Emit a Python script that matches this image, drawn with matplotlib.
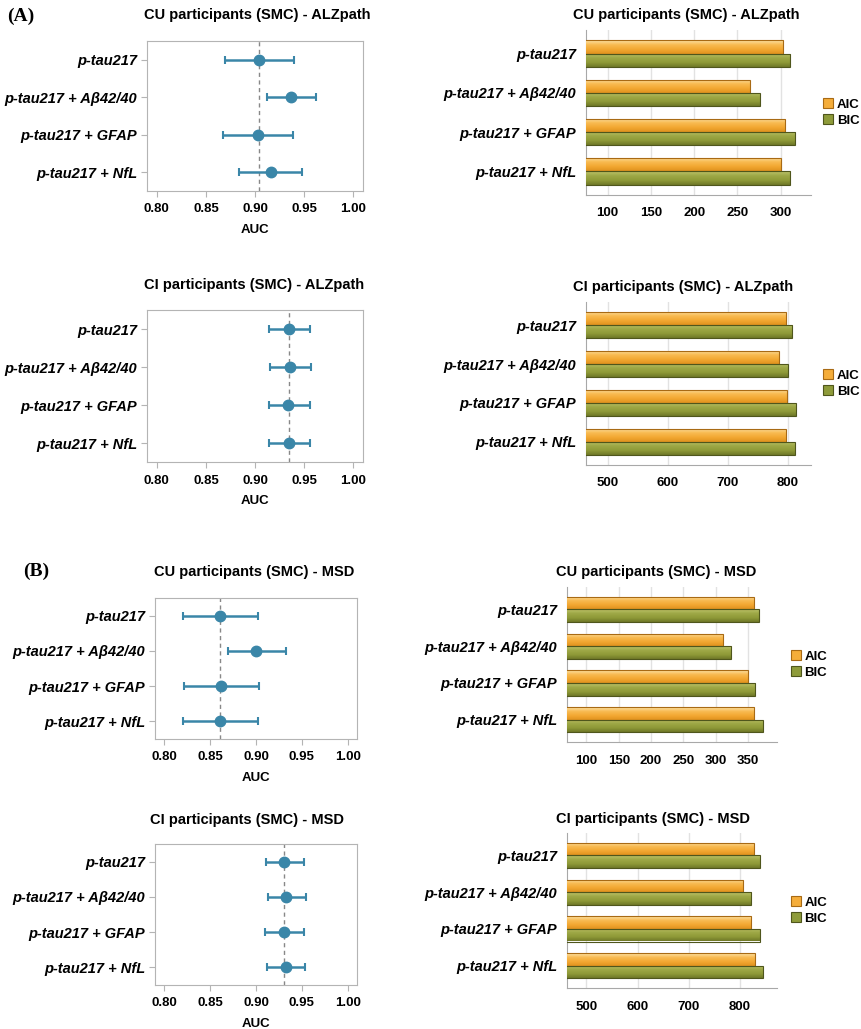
# -*- coding: utf-8 -*-

import numpy as np
import matplotlib
matplotlib.use("Agg")
import matplotlib.pyplot as plt
from matplotlib.colors import LinearSegmentedColormap

plt.rcParams["font.family"] = ["Liberation Sans", "DejaVu Sans"]

# データ
models = ["p-tau217", "p-tau217 + Aβ42/40", "p-tau217 + GFAP", "p-tau217 + NfL"]

# AUC (点, 下限, 上限)
auc_cu_alz = [0.904, 0.937, 0.903, 0.916]
lo_cu_alz = [0.869, 0.912, 0.867, 0.884]
hi_cu_alz = [0.940, 0.962, 0.939, 0.948]

auc_ci_alz = [0.935, 0.936, 0.934, 0.935]
lo_ci_alz = [0.914, 0.915, 0.914, 0.914]
hi_ci_alz = [0.956, 0.957, 0.956, 0.956]

auc_cu_msd = [0.861, 0.900, 0.862, 0.861]
lo_cu_msd = [0.820, 0.869, 0.822, 0.820]
hi_cu_msd = [0.902, 0.933, 0.903, 0.902]

auc_ci_msd = [0.931, 0.933, 0.931, 0.933]
lo_ci_msd = [0.911, 0.913, 0.910, 0.912]
hi_ci_msd = [0.952, 0.954, 0.952, 0.953]

auc_ticks = [0.80, 0.85, 0.90, 0.95, 1.00]

# AIC / BIC
aic_cu_alz = [303, 264, 305, 300]
bic_cu_alz = [311, 276, 317, 311]
aic_ci_alz = [797, 785, 799, 797]
bic_ci_alz = [808, 800, 814, 812]
aic_cu_msd = [359, 312, 350, 360]
bic_cu_msd = [367, 324, 361, 373]
aic_ci_msd = [827, 806, 822, 829]
bic_ci_msd = [838, 822, 838, 844]

ticks_cu_alz = [100, 150, 200, 250, 300]
ticks_ci_alz = [500, 600, 700, 800]
ticks_cu_msd = [100, 150, 200, 250, 300, 350]
ticks_ci_msd = [500, 600, 700, 800]

W, H = 861, 1029
BLUE = "#3a86a8"
ORANGE = "#f5ad3a"
ORANGE_EDGE = "#a86a14"
GREEN = "#8e9b3a"
GREEN_EDGE = "#4f561c"
ORANGE_CMAP = LinearSegmentedColormap.from_list(
    "org", ["#fde2a6", "#f8bb52", "#f3a832", "#e0921f"])
GREEN_CMAP = LinearSegmentedColormap.from_list(
    "grn", ["#bcc46c", "#9ea846", "#8f9a38", "#6f7828"])


def px_axes(fig, left, right, top, bottom):
    """ピクセル座標でAxesを作る"""
    return fig.add_axes([left / W, 1 - bottom / H, (right - left) / W, (bottom - top) / H])


def px_text(fig, x, y, s, **kw):
    fig.text(x / W, 1 - y / H, s, ha="center", va="center", **kw)


def forest(ax, auc, lo, hi):
    auc = np.array(auc)
    y = np.arange(len(models))
    err = [auc - np.array(lo), np.array(hi) - auc]
    ax.axvline(auc[0], color="#888888", ls=(0, (3, 2.5)), lw=1.0, zorder=1)
    ax.errorbar(auc, y, xerr=err, fmt="o", color=BLUE, ms=7.5, lw=1.8,
                capsize=3, capthick=1.5, zorder=3)
    ax.set_xlim(0.79, 1.01)
    ax.set_ylim(3.5, -0.5)
    ax.set_yticks(y)
    ax.set_yticklabels(models, fontsize=10.5, fontweight="bold", style="italic")
    ax.set_xticks(auc_ticks)
    ax.set_xticklabels(["%.2f" % t for t in auc_ticks], fontsize=9.5, fontweight="bold")
    ax.set_xlabel("AUC", fontsize=9.5, fontweight="bold", labelpad=6)
    for s in ax.spines.values():
        s.set_color("#b4b4b4")
    ax.tick_params(axis="both", color="#b4b4b4", length=4)
    ax.tick_params(axis="x", pad=5)
    ax.tick_params(axis="y", pad=3)


def shade(ax, container, cmap, xmin):
    """バーにグラデーションを付ける"""
    grad = np.linspace(0, 1, 64).reshape(-1, 1)
    for bar in container:
        x0, y0 = bar.get_xy()
        w, h = bar.get_width(), bar.get_height()
        im = ax.imshow(grad, extent=[max(x0, xmin), x0 + w, y0 + h, y0], origin="upper",
                       aspect="auto", cmap=cmap, zorder=3.2, interpolation="bilinear")
        im.set_clip_path(bar)
        bar.set_facecolor("none")
        bar.set_zorder(3.4)


def bars(ax, aic, bic, ticks, xlim, leg_x):
    y = np.arange(len(models))
    h = 0.34
    b1 = ax.barh(y - h / 2, aic, height=h, color=ORANGE, edgecolor=ORANGE_EDGE,
                 lw=0.8, label="AIC", zorder=3)
    b2 = ax.barh(y + h / 2, bic, height=h, color=GREEN, edgecolor=GREEN_EDGE,
                 lw=0.8, label="BIC", zorder=3)
    ax.legend(loc="center left", bbox_to_anchor=(leg_x, 0.5), frameon=False,
              prop={"size": 9.5, "weight": "bold"}, handlelength=0.75,
              handleheight=0.75, handletextpad=0.3, labelspacing=0.25,
              borderaxespad=0)
    shade(ax, b1, ORANGE_CMAP, xlim[0])
    shade(ax, b2, GREEN_CMAP, xlim[0])
    ax.set_xlim(*xlim)
    ax.set_ylim(3.6, -0.6)
    ax.set_yticks(y)
    ax.set_yticklabels(models, fontsize=10.5, fontweight="bold", style="italic")
    ax.set_xticks(ticks)
    ax.set_xticklabels([str(t) for t in ticks], fontsize=9.5, fontweight="bold")
    ax.grid(axis="x", color="#e2e2e2", lw=1.0, zorder=0)
    ax.set_axisbelow(True)
    ax.spines["top"].set_visible(False)
    ax.spines["right"].set_visible(False)
    ax.spines["left"].set_color("#a8a8a8")
    ax.spines["bottom"].set_color("#a8a8a8")
    ax.tick_params(axis="both", length=0)
    ax.tick_params(axis="x", pad=9)
    ax.tick_params(axis="y", pad=7)


def main():
    fig = plt.figure(figsize=(W / 100, H / 100), dpi=100)

    # 左側: AUC
    ax = px_axes(fig, 147, 363, 41, 191)
    forest(ax, auc_cu_alz, lo_cu_alz, hi_cu_alz)
    ax = px_axes(fig, 147, 363, 310, 462)
    forest(ax, auc_ci_alz, lo_ci_alz, hi_ci_alz)
    ax = px_axes(fig, 155, 357, 598, 739)
    forest(ax, auc_cu_msd, lo_cu_msd, hi_cu_msd)
    ax = px_axes(fig, 155, 357, 844, 985)
    forest(ax, auc_ci_msd, lo_ci_msd, hi_ci_msd)

    # 右側: AIC / BIC
    ax = px_axes(fig, 586, 811, 30, 195)
    bars(ax, aic_cu_alz, bic_cu_alz, ticks_cu_alz, (75, 335), 1.03)
    ax = px_axes(fig, 586, 811, 302, 465)
    bars(ax, aic_ci_alz, bic_ci_alz, ticks_ci_alz, (464, 839), 1.03)
    ax = px_axes(fig, 567, 777, 587, 742)
    bars(ax, aic_cu_msd, bic_cu_msd, ticks_cu_msd, (70, 395), 1.04)
    ax = px_axes(fig, 567, 777, 833, 988)
    bars(ax, aic_ci_msd, bic_ci_msd, ticks_ci_msd, (462, 872), 1.04)

    # タイトル
    tkw = dict(fontsize=10.5, fontweight="bold")
    px_text(fig, 257, 15, "CU participants (SMC) - ALZpath", **tkw)
    px_text(fig, 254, 285, "CI participants (SMC) - ALZpath", **tkw)
    px_text(fig, 254, 572, "CU participants (SMC) - MSD", **tkw)
    px_text(fig, 247, 820, "CI participants (SMC) - MSD", **tkw)
    px_text(fig, 686, 15, "CU participants (SMC) - ALZpath", **tkw)
    px_text(fig, 683, 287, "CI participants (SMC) - ALZpath", **tkw)
    px_text(fig, 656, 572, "CU participants (SMC) - MSD", **tkw)
    px_text(fig, 653, 819, "CI participants (SMC) - MSD", **tkw)

    # パネルラベル
    lkw = dict(fontsize=14, fontweight="bold", family=["Liberation Serif", "DejaVu Serif"])
    px_text(fig, 21, 16, "(A)", **lkw)
    px_text(fig, 36, 571, "(B)", **lkw)

    fig.savefig("out.png", dpi=100)


if __name__ == '__main__':
    main()
